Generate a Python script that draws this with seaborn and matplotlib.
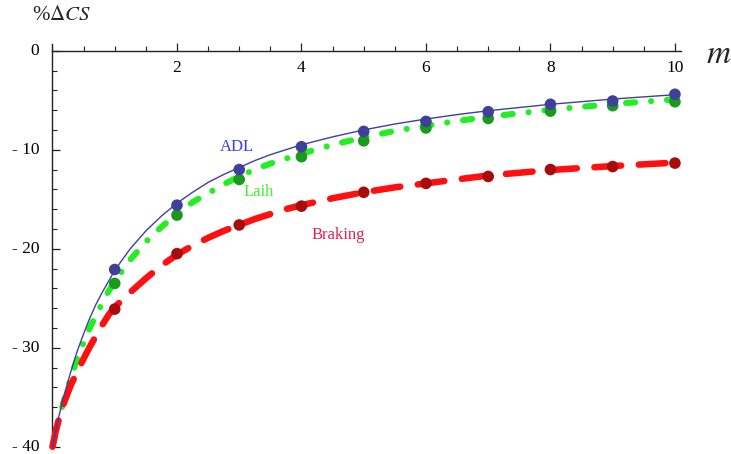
import matplotlib
matplotlib.use("Agg")
import matplotlib.pyplot as plt
import seaborn as sns
import pandas as pd
from matplotlib.ticker import MultipleLocator, FixedLocator

# ---------------- data ----------------
m_grid = [0, 0.05, 0.1, 0.15, 0.2, 0.3, 0.4, 0.5, 0.6, 0.7, 0.8, 0.9, 1.0, 1.1, 1.25,
          1.5, 1.75, 2, 2.25, 2.5, 2.75, 3, 3.25, 3.5, 3.75, 4, 4.5, 5, 5.5, 6,
          6.5, 7, 8, 9, 10]
adl_curve = [-40.0, -38.5, -37.0, -35.7, -34.5, -32.3, -30.3, -28.6, -27.0, -25.6,
             -24.4, -23.3, -22.2, -21.3, -20.0, -18.2, -16.7, -15.4, -14.3, -13.3,
             -12.5, -11.8, -11.1, -10.5, -10.0, -9.5, -8.7, -8.0, -7.4, -6.9,
             -6.45, -6.06, -5.41, -4.88, -4.44]
laih_curve = [-40.0, -38.6, -37.3, -36.1, -35.0, -32.9, -31.1, -29.5, -28.0, -26.7,
              -25.5, -24.3, -23.3, -22.4, -21.1, -19.3, -17.8, -16.5, -15.3, -14.4,
              -13.5, -12.7, -12.0, -11.4, -10.9, -10.4, -9.5, -8.75, -8.1, -7.57,
              -7.1, -6.67, -5.96, -5.38, -4.91]
braking_curve = [-40.0, -38.5, -37.3, -36.2, -35.3, -33.7, -32.4, -31.1, -29.9, -28.8,
                 -27.7, -26.7, -25.9, -25.3, -24.4, -23.0, -21.7, -20.6, -19.7, -18.9,
                 -18.2, -17.6, -17.0, -16.5, -16.0, -15.6, -14.9, -14.3, -13.8, -13.4,
                 -13.0, -12.6, -12.05, -11.65, -11.3]

m_points = [1, 2, 3, 4, 5, 6, 7, 8, 9, 10]
adl_points = [-22.1, -15.6, -12.0, -9.7, -8.15, -7.14, -6.16, -5.41, -5.08, -4.4]
laih_points = [-23.5, -16.6, -13.0, -10.7, -9.1, -7.8, -6.84, -6.1, -5.55, -5.15]
braking_points = [-26.1, -20.5, -17.6, -15.7, -14.3, -13.4, -12.7, -12.0, -11.7, -11.35]

x_ticks = [2, 4, 6, 8, 10]
x_tick_labels = ["2", "4", "6", "8", "10"]
y_ticks = [-40, -30, -20, -10, 0]
y_tick_labels = ["- 40", "- 30", "- 20", "- 10", "0"]

series_names = ["ADL", "Laih", "Braking"]

# ---------------- styling ----------------
sns.set_theme(style="white")
plt.rcParams["font.family"] = ["Liberation Serif", "DejaVu Serif"]
plt.rcParams["mathtext.fontset"] = "stix"

fig = plt.figure(figsize=(7.31, 4.54), dpi=100)
ax = fig.add_axes([0.0701, 0.0095, 0.8617, 0.894])

curves = pd.DataFrame({"m": m_grid, "ADL": adl_curve, "Laih": laih_curve,
                       "Braking": braking_curve})
pts = pd.DataFrame({"m": m_points, "ADL": adl_points, "Laih": laih_points,
                    "Braking": braking_points})

# Laih: green dash-dot
sns.lineplot(data=curves, x="m", y="Laih", ax=ax, color="#22ee22", linewidth=4.4,
             zorder=2)
l_laih = ax.lines[-1]
l_laih.set_dashes([1.5, 2.6, 0.01, 2.6])
l_laih.set_dash_capstyle("round")

# Braking: red dashed
sns.lineplot(data=curves, x="m", y="Braking", ax=ax, color="#ff1010", linewidth=4.7,
             zorder=3)
l_brk = ax.lines[-1]
l_brk.set_dashes([4.1, 2.7])
l_brk.set_dash_capstyle("round")

# ADL: thin blue solid
sns.lineplot(data=curves, x="m", y="ADL", ax=ax, color="#3f3fa0", linewidth=1.0,
             zorder=4)

for l in ax.lines:
    l.set_clip_on(False)

# points
sns.scatterplot(data=pts, x="m", y="Laih", ax=ax, color="#1a9a1a", s=70,
                edgecolor="none", zorder=5, clip_on=False)
sns.scatterplot(data=pts, x="m", y="Braking", ax=ax, color="#a80c0c", s=70,
                edgecolor="none", zorder=5, clip_on=False)
sns.scatterplot(data=pts, x="m", y="ADL", ax=ax, color="#40409a", s=70,
                edgecolor="none", zorder=6, clip_on=False)

# curve labels
ax.text(2.96, -9.75, series_names[0], color="#3c3cee", fontsize=12,
        ha="center", va="center")
ax.text(3.32, -14.3, series_names[1], color="#44ee33", fontsize=12,
        ha="center", va="center")
ax.text(4.59, -18.6, series_names[2], color="#e42050", fontsize=12,
        ha="center", va="center")

# axes (Mathematica-like)
ax.set_xlim(-0.02, 10.1)
ax.set_ylim(-40.3, 0.7)
ax.set_xlabel("")
ax.set_ylabel("")
ax.set_facecolor("white")
ax.grid(False)
for s in ["top", "right"]:
    ax.spines[s].set_visible(False)
ax.spines["bottom"].set_position(("data", 0))
ax.spines["left"].set_position(("data", 0))
ax.spines["bottom"].set_bounds(0, 10.1)
ax.spines["left"].set_bounds(-40, 0.7)
for s in ["bottom", "left"]:
    ax.spines[s].set_color("#222222")
    ax.spines[s].set_linewidth(1.0)
    ax.spines[s].set_zorder(1)

ax.xaxis.set_major_locator(FixedLocator(x_ticks))
ax.set_xticklabels(x_tick_labels)
ax.xaxis.set_minor_locator(MultipleLocator(0.5))
ax.yaxis.set_major_locator(FixedLocator(y_ticks))
ax.set_yticklabels(y_tick_labels)
ax.yaxis.set_minor_locator(MultipleLocator(2))
for lab in ax.get_yticklabels():
    lab.set_verticalalignment("center")

ax.tick_params(axis="both", which="major", direction="in", length=6, width=0.9,
               color="#222222", labelsize=12.5, labelcolor="black")
ax.tick_params(axis="both", which="minor", direction="in", length=3.6, width=0.8,
               color="#222222")
ax.tick_params(axis="x", which="major", pad=7, bottom=True)
ax.tick_params(axis="y", which="major", pad=9.5, left=True)
ax.tick_params(axis="x", which="minor", bottom=True)
ax.tick_params(axis="y", which="minor", left=True)

# axis titles
fig.text(32 / 731, 1 - 15.5 / 454, r"%$\Delta\mathit{CS}$", fontsize=15,
         ha="left", va="center")
fig.text(718.5 / 731, 1 - 55 / 454, r"$m$", fontsize=24, ha="center", va="center")

fig.savefig("out.png", dpi=100)
